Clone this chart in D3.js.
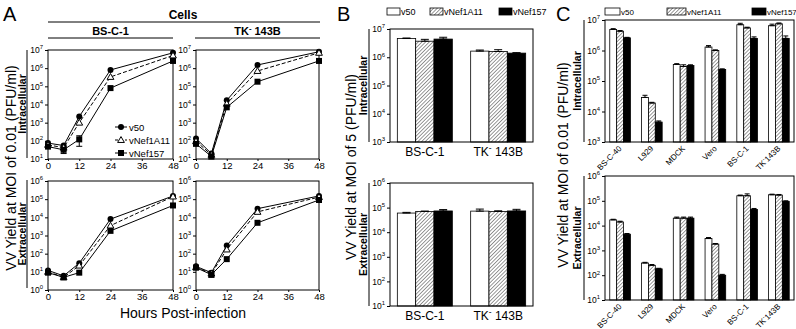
<!DOCTYPE html>
<html>
<head>
<meta charset="utf-8">
<script src="https://cdn.jsdelivr.net/npm/d3@7"></script>
<style>
body { margin: 0; background: #fff; }
svg { font-family: "Liberation Sans", Arial, sans-serif; }
</style>
</head>
<body>
<svg id="fig" width="796" height="329"></svg>
<script>
// ---- data ----
const hours = [0, 6, 12, 24, 48];
const series = ["v50", "vNef1A11", "vNef157"];

// panel A : one row per series (v50, vNef1A11, vNef157)
const aBscIntra = [[75, 55, 2200, 8e5, 7e6], [60, 42, 1000, 3.3e5, 5e6], [48, 32, 120, 8e4, 2.5e6]];
const aBscIntraErr = [[0, 0, 0, 0, 0], [0, 6, 0, 0, 0], [0, 12, 70, 0, 0]];
const aTkIntra = [[135, 20, 17000, 1.5e6, 8e6], [95, 17, 11000, 7e5, 7e6], [68, 14, 7000, 1.8e5, 2.5e6]];
const aTkIntraErr = [[0, 0, 0, 0, 0], [0, 0, 0, 0, 0], [0, 4, 0, 0, 0]];
const aBscExtra = [[12, 6, 30, 8000, 1.5e5], [10, 5, 22, 3500, 1.4e5], [9, 5, 9, 1800, 4.5e4]];
const aBscExtraErr = [[0, 0, 0, 0, 0], [0, 0, 0, 0, 0], [0, 0, 0, 0, 0]];
const aTkExtra = [[20, 9, 280, 3e4, 1.5e5], [18, 8, 170, 2e4, 1.3e5], [17, 7, 50, 5000, 9e4]];
const aTkExtraErr = [[0, 0, 0, 0, 0], [0, 3, 0, 0, 0], [0, 0, 0, 0, 0]];

// panel B
const bCells = ["BS-C-1", "TK- 143B"];
const bIntra = [[4.6e6, 1.65e6], [3.7e6, 1.6e6], [4.4e6, 1.4e6]];
const bIntraErr = [[2e5, 1.5e5], [6e5, 2.5e5], [7e5, 5e4]];
const bExtra = [[6e4, 7.2e4], [7e4, 7e4], [7.3e4, 7.3e4]];
const bExtraErr = [[4e3, 1.5e4], [2e3, 4e3], [1e4, 1.2e4]];

// panel C
const cCells = ["BS-C-40", "L929", "MDCK", "Vero", "BS-C-1", "TK-143B"];
const cIntra = [[4.9e6, 2.9e4, 3.5e5, 1.3e6, 7e6, 6.5e6],
                [4.3e6, 1.9e4, 3.0e5, 1.0e6, 5.5e6, 7.5e6],
                [2.6e6, 4.5e3, 3.2e5, 2.4e5, 2.5e6, 2.5e6]];
const cIntraErr = [[3e5, 5e3, 2e4, 1.5e5, 8e5, 8e5],
                   [2e5, 1e3, 4e4, 5e4, 3e5, 5e5],
                   [1e5, 4e2, 2e4, 1e4, 3e5, 5e5]];
const cExtra = [[1.7e4, 310, 2e4, 3000, 1.6e5, 1.75e5],
                [1.4e4, 250, 2e4, 1800, 1.6e5, 1.7e5],
                [4.5e3, 180, 2e4, 100, 4.5e4, 9.5e4]];
const cExtraErr = [[1e3, 20, 2e3, 300, 1e4, 1e4],
                   [1e3, 20, 2e3, 100, 3e4, 1e4],
                   [300, 10, 2e3, 8, 4e3, 5e3]];

const svg = d3.select("#fig");
const FONT = '"Liberation Sans", Arial, sans-serif';

// hatch for vNef1A11 bars
const pat = svg.append("defs").append("pattern")
  .attr("id", "hatch").attr("patternUnits", "userSpaceOnUse")
  .attr("width", 2.6).attr("height", 2.6).attr("patternTransform", "rotate(45)");
pat.append("rect").attr("width", 2.6).attr("height", 2.6).attr("fill", "#fff");
pat.append("line").attr("x1", 0).attr("y1", 0).attr("x2", 0).attr("y2", 2.6)
  .attr("stroke", "#333").attr("stroke-width", 1);
const fills = ["#fff", "url(#hatch)", "#000"];

// cell names with the superscript minus
function cellText(t, name, fs) {
  if (name.startsWith("TK-")) {
    t.append("tspan").text("TK");
    t.append("tspan").attr("dy", -fs * 0.4).attr("font-size", fs * 0.7).text("-");
    t.append("tspan").attr("dy", fs * 0.4).text(name.slice(3));
  } else t.text(name);
}

function logAxis(x0, y, fs) {
  const lo = Math.round(Math.log10(y.domain()[0])), hi = Math.round(Math.log10(y.domain()[1]));
  const vals = d3.range(lo, hi + 1).map(e => Math.pow(10, e));
  const ax = svg.append("g").attr("transform", `translate(${x0},0)`)
    .call(d3.axisLeft(y).tickValues(vals).tickSize(3).tickPadding(2))
    .attr("font-family", FONT);
  ax.select(".domain").remove();
  ax.selectAll(".tick line").attr("stroke", "#000");
  ax.selectAll(".tick text").each(function(d) {
    const t = d3.select(this).text(null).attr("font-size", fs).attr("fill", "#000");
    t.append("tspan").text("10");
    t.append("tspan").attr("dy", -fs * 0.45).attr("font-size", fs * 0.7).text(Math.round(Math.log10(d)));
  });
}

function frame(x0, x1, y0, y1) {
  svg.append("rect").attr("x", x0).attr("y", y0).attr("width", x1 - x0).attr("height", y1 - y0)
    .attr("fill", "none").attr("stroke", "#000").attr("stroke-width", 1);
}

function errBar(x, yv, lo, hi, cap) {
  svg.append("line").attr("x1", x).attr("x2", x).attr("y1", yv(lo)).attr("y2", yv(hi))
    .attr("stroke", "#000").attr("stroke-width", 1);
  [lo, hi].forEach(v => svg.append("line").attr("x1", x - cap).attr("x2", x + cap)
    .attr("y1", yv(v)).attr("y2", yv(v)).attr("stroke", "#000").attr("stroke-width", 1));
}

function marker(g, i, cx, cy) {
  if (i === 0) g.append("circle").attr("cx", cx).attr("cy", cy).attr("r", 3).attr("fill", "#000");
  else if (i === 1) g.append("path").attr("d", d3.symbol(d3.symbolTriangle, 20)())
    .attr("transform", `translate(${cx},${cy + 0.5})`).attr("fill", "#fff").attr("stroke", "#000").attr("stroke-width", 1);
  else g.append("rect").attr("x", cx - 3).attr("y", cy - 3).attr("width", 6).attr("height", 6).attr("fill", "#000");
}

// ---------------- panel A ----------------
function linePanel(x0, x1, y0, y1, yDom, data, errs) {
  const x = d3.scaleLinear([0, 48], [x0, x1]);
  const y = d3.scaleLog(yDom, [y1, y0]);
  frame(x0, x1, y0, y1);
  logAxis(x0, y, 8.5);
  const xa = svg.append("g").attr("transform", `translate(0,${y1})`)
    .call(d3.axisBottom(x).tickValues([0, 12, 24, 36, 48]).tickSize(2).tickPadding(1))
    .attr("font-family", FONT).attr("font-size", 9.5);
  xa.select(".domain").remove();
  xa.selectAll("text").attr("fill", "#000");
  const line = d3.line().x((d, i) => x(hours[i])).y(d => y(d));
  data.forEach((s, k) => svg.append("path").attr("d", line(s)).attr("fill", "none")
    .attr("stroke", "#000").attr("stroke-width", 1).attr("stroke-dasharray", k === 1 ? "4,2" : null));
  data.forEach((s, k) => s.forEach((v, i) => {
    if (errs[k][i] > 0) errBar(x(hours[i]), y, v - errs[k][i], v + errs[k][i], 3);
  }));
  const g = svg.append("g");
  data.forEach((s, k) => s.forEach((v, i) => marker(g, k, x(hours[i]), y(v))));
}

linePanel(48, 173, 50, 159, [10, 1e7], aBscIntra, aBscIntraErr);
linePanel(196, 319, 50, 159, [10, 1e7], aTkIntra, aTkIntraErr);
linePanel(48, 173, 181, 290, [1, 1e6], aBscExtra, aBscExtraErr);
linePanel(196, 319, 181, 290, [1, 1e6], aTkExtra, aTkExtraErr);

// legend in first plot
series.forEach((s, k) => {
  const ly = 127 + k * 13;
  svg.append("line").attr("x1", 115).attr("x2", 127).attr("y1", ly).attr("y2", ly)
    .attr("stroke", "#000").attr("stroke-dasharray", k === 1 ? "3,2" : null);
  marker(svg, k, 121, ly);
  svg.append("text").attr("x", 129).attr("y", ly + 3.5).attr("font-size", 9.5).text(s);
});

svg.append("text").attr("x", 3).attr("y", 21).attr("font-size", 20).text("A");
svg.append("text").attr("x", 183).attr("y", 19).attr("font-size", 12).attr("font-weight", "bold")
  .attr("text-anchor", "middle").text("Cells");
svg.append("line").attr("x1", 48).attr("x2", 320).attr("y1", 22).attr("y2", 22).attr("stroke", "#000");
[["BS-C-1", 48, 173], ["TK- 143B", 195, 320]].forEach(([n, a, b]) => {
  const t = svg.append("text").attr("x", (a + b) / 2).attr("y", 35).attr("font-size", 11)
    .attr("font-weight", "bold").attr("text-anchor", "middle");
  cellText(t, n, 11);
  svg.append("line").attr("x1", a).attr("x2", b).attr("y1", 38).attr("y2", 38).attr("stroke", "#000");
});
svg.append("text").attr("x", 183).attr("y", 318).attr("font-size", 14).attr("text-anchor", "middle")
  .text("Hours Post-infection");

function sideLabels(xMain, yMain, mainText, xSub, xLine, boxes) {
  svg.append("text").attr("transform", `translate(${xMain},${yMain}) rotate(-90)`)
    .attr("font-size", 14).attr("text-anchor", "middle").text(mainText);
  boxes.forEach(([name, a, b]) => {
    svg.append("text").attr("transform", `translate(${xSub},${(a + b) / 2}) rotate(-90)`)
      .attr("font-size", 10.5).attr("font-weight", "bold").attr("text-anchor", "middle").text(name);
    svg.append("line").attr("x1", xLine).attr("x2", xLine).attr("y1", a).attr("y2", b).attr("stroke", "#000");
  });
}
sideLabels(16, 168, "VV Yield at MOI of 0.01 (PFU/ml)", 25.5, 27,
  [["Intracellular", 50, 158], ["Extracellular", 180, 288]]);

// ---------------- bar panels ----------------
function barPanel(x0, x1, y0, y1, yDom, cats, data, errs, opts) {
  const x = d3.scaleBand(cats, [x0, x1]).paddingInner(opts.pin).paddingOuter(opts.pout);
  const xs = d3.scaleBand(d3.range(series.length), [0, x.bandwidth()]);
  const y = d3.scaleLog(yDom, [y1, y0]);
  const g = svg.append("g");
  data.forEach((s, k) => s.forEach((v, i) => {
    g.append("rect").attr("x", x(cats[i]) + xs(k)).attr("y", y(v))
      .attr("width", xs.bandwidth()).attr("height", y1 - y(v))
      .attr("fill", fills[k]).attr("stroke", "#000").attr("stroke-width", 0.8);
  }));
  data.forEach((s, k) => s.forEach((v, i) => {
    const cx = x(cats[i]) + xs(k) + xs.bandwidth() / 2;
    errBar(cx, y, v, v + errs[k][i], opts.cap);
  }));
  frame(x0, x1, y0, y1);
  logAxis(x0, y, 8.5);
  cats.forEach(c => {
    const cx = x(c) + x.bandwidth() / 2;
    if (opts.rot) {
      const t = svg.append("text").attr("transform", `translate(${cx + 2},${y1 + 7}) rotate(-45)`)
        .attr("font-size", 8).attr("text-anchor", "end");
      cellText(t, c, 8);
    } else {
      const t = svg.append("text").attr("x", cx).attr("y", y1 + 14).attr("font-size", 12).attr("text-anchor", "middle");
      cellText(t, c, 12);
    }
  });
}

function legend(items, fs) {
  items.forEach(([x, tx, w], k) => {
    svg.append("rect").attr("x", x).attr("y", 8).attr("width", w).attr("height", 7)
      .attr("fill", fills[k]).attr("stroke", "#000").attr("stroke-width", 0.8);
    svg.append("text").attr("x", tx).attr("y", 15).attr("font-size", fs).text(series[k]);
  });
}

// panel B
const bOpts = { pin: 0.25, pout: 0.1, cap: 4, rot: false };
barPanel(390, 533, 29, 142, [1e3, 1e7], bCells, bIntra, bIntraErr, bOpts);
barPanel(390, 533, 183, 306, [10, 1e6], bCells, bExtra, bExtraErr, bOpts);
svg.append("text").attr("x", 337).attr("y", 21).attr("font-size", 20).text("B");
legend([[387, 401, 13], [430, 444, 13], [499, 513, 13]], 9);
sideLabels(356, 167, "VV Yield at MOI of 5 (PFU/ml)", 366.5, 369,
  [["Intracellular", 29, 142], ["Extracellular", 183, 306]]);

// panel C
const cOpts = { pin: 0.35, pout: 0.15, cap: 2.5, rot: true };
barPanel(605, 794, 20, 142, [1e3, 1e7], cCells, cIntra, cIntraErr, cOpts);
barPanel(605, 794, 176, 300, [10, 1e6], cCells, cExtra, cExtraErr, cOpts);
svg.append("text").attr("x", 556).attr("y", 21).attr("font-size", 20).text("C");
legend([[605, 621, 15], [667, 687, 19], [752, 767, 14]], 8);
sideLabels(568, 165, "VV Yield at MOI of 0.01 (PFU/ml)", 580.5, 584,
  [["Intracellular", 20, 142], ["Extracellular", 176, 300]]);
</script>
</body>
</html>
